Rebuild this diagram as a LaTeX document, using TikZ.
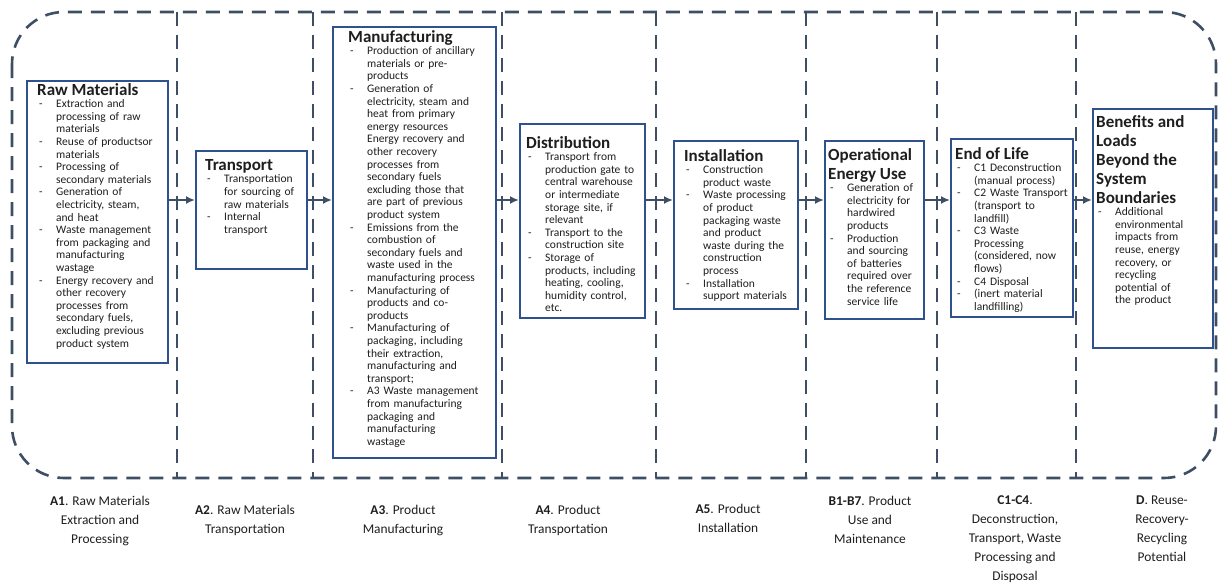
\documentclass[tikz,border=0pt]{standalone}
\usepackage{fontspec}
\setmainfont{Carlito}
\usetikzlibrary{arrows.meta, positioning}
\definecolor{boxblue}{RGB}{47,82,143}
\definecolor{frameslate}{RGB}{62,78,100}
\definecolor{inktext}{RGB}{30,30,30}
\tikzstyle{stagebox} = [rectangle, draw=boxblue, line width=2.2pt, fill=white, anchor=north west, inner sep=0pt]
\tikzstyle{stagetext} = [anchor=north west, inner sep=0pt, text width=160pt, align=left, text=inktext, font=\fontsize{11.5}{12.6}\selectfont]
\tikzstyle{phase} = [anchor=north, inner sep=0pt, align=center, text=inktext, font=\fontsize{13.4}{19}\selectfont]
\tikzstyle{boundary} = [draw=frameslate, line width=2.6pt, dash pattern=on 14pt off 9pt]
\tikzstyle{arrow} = [draw=frameslate, line width=1.8pt, -{Latex[length=9pt,width=8pt]}]
\newcommand{\stagetitle}[1]{{\fontsize{17}{19}\selectfont\bfseries #1\par}}
\newcommand{\itm}{\par\noindent\hangindent=19pt\hangafter=1\makebox[19pt][l]{\hspace{2pt}-}}

\begin{document}
\begin{tikzpicture}[x=1pt, y=-1pt]
    \useasboundingbox (0,0) rectangle (1220,584);

    % Dashed frame and module separators
    \draw[boundary, rounded corners=52pt] (12,12) rectangle (1216,478);
    \foreach \sx in {177,313,502,656,806,937,1076}
        \draw[boundary] (\sx,12) -- (\sx,478);

    % Stage boxes
    \node (raw) [stagebox, minimum width=141pt, minimum height=282pt] at (26,80) {};
    \node (trans) [stagebox, minimum width=111pt, minimum height=118pt] at (195,150) {};
    \node (manu) [stagebox, minimum width=163pt, minimum height=431pt] at (332,26) {};
    \node (dist) [stagebox, minimum width=125pt, minimum height=194pt] at (519,123) {};
    \node (inst) [stagebox, minimum width=124pt, minimum height=168pt] at (673,140) {};
    \node (oper) [stagebox, minimum width=99pt, minimum height=178pt] at (824,140) {};
    \node (eol) [stagebox, minimum width=122pt, minimum height=178pt] at (950,138) {};
    \node (bene) [stagebox, minimum width=120pt, minimum height=239pt] at (1092,108) {};

    % Stage contents
    \node (rawtext) [stagetext] at (37,83) {\stagetitle{Raw Materials}
        \itm Extraction and\newline processing of raw\newline materials
        \itm Reuse of productsor\newline materials
        \itm Processing of\newline secondary materials
        \itm Generation of\newline electricity, steam,\newline and heat
        \itm Waste management\newline from packaging and\newline manufacturing\newline wastage
        \itm Energy recovery and\newline other recovery\newline processes from\newline secondary fuels,\newline excluding previous\newline product system\par};
    \node (transtext) [stagetext] at (205,159) {\stagetitle{Transport}
        \itm Transportation\newline for sourcing of\newline raw materials
        \itm Internal\newline transport\par};
    \node (manutext) [stagetext] at (348,30) {\stagetitle{Manufacturing}
        \itm Production of ancillary\newline materials or pre-\newline products
        \itm Generation of\newline electricity, steam and\newline heat from primary\newline energy resources\newline Energy recovery and\newline other recovery\newline processes from\newline secondary fuels\newline excluding those that\newline are part of previous\newline product system
        \itm Emissions from the\newline combustion of\newline secondary fuels and\newline waste used in the\newline manufacturing process
        \itm Manufacturing of\newline products and co-\newline products
        \itm Manufacturing of\newline packaging, including\newline their extraction,\newline manufacturing and\newline transport;
        \itm A3 Waste management\newline from manufacturing\newline packaging and\newline manufacturing\newline wastage\par};
    \node (disttext) [stagetext] at (526,136) {\stagetitle{Distribution}
        \itm Transport from\newline production gate to\newline central warehouse\newline or intermediate\newline storage site, if\newline relevant
        \itm Transport to the\newline construction site
        \itm Storage of\newline products, including\newline heating, cooling,\newline humidity control,\newline etc.\par};
    \node (insttext) [stagetext] at (684,149) {\stagetitle{Installation}
        \itm Construction\newline product waste
        \itm Waste processing\newline of product\newline packaging waste\newline and product\newline waste during the\newline construction\newline process
        \itm Installation\newline support materials\par};
    \node (opertext) [stagetext] at (828,148) {\stagetitle{Operational\newline Energy Use}
        \itm Generation of\newline electricity for\newline hardwired\newline products
        \itm Production\newline and sourcing\newline of batteries\newline required over\newline the reference\newline service life\par};
    \node (eoltext) [stagetext] at (955,147) {\stagetitle{End of Life}
        \itm C1 Deconstruction\newline (manual process)
        \itm C2 Waste Transport\newline (transport to\newline landfill)
        \itm C3 Waste\newline Processing\newline (considered, now\newline flows)
        \itm C4 Disposal
        \itm (inert material\newline landfilling)\par};
    \node (benetext) [stagetext] at (1096,115) {\stagetitle{Benefits and\newline Loads\newline Beyond the\newline System\newline Boundaries}
        \itm Additional\newline environmental\newline impacts from\newline reuse, energy\newline recovery, or\newline recycling\newline potential of\newline the product\par};

    % Module labels under the frame
    \node (a1) [phase] at (100,496) {\textbf{A1}. Raw Materials\\Extraction and\\Processing};
    \node (a2) [phase] at (245,505) {\textbf{A2}. Raw Materials\\Transportation};
    \node (a3) [phase] at (403,505) {\textbf{A3}. Product\\Manufacturing};
    \node (a4) [phase] at (568,505) {\textbf{A4}. Product\\Transportation};
    \node (a5) [phase] at (728,504) {\textbf{A5}. Product\\Installation};
    \node (b17) [phase] at (870,496) {\textbf{B1-B7}. Product\\Use and\\Maintenance};
    \node (c14) [phase] at (1015,496) {\textbf{C1-C4}.\\Deconstruction,\\Transport, Waste\\Processing and\\Disposal};
    \node (dmod) [phase] at (1162,496) {\textbf{D}. Reuse-\\Recovery-\\Recycling\\Potential};

    % Flow between stages
    \coordinate (flowy) at (0,200);
    \draw[arrow] (raw.east |- flowy) -- (trans.west |- flowy);
    \draw[arrow] (trans.east |- flowy) -- (manu.west |- flowy);
    \draw[arrow] (manu.east |- flowy) -- (dist.west |- flowy);
    \draw[arrow] (dist.east |- flowy) -- (inst.west |- flowy);
    \draw[arrow] (inst.east |- flowy) -- (oper.west |- flowy);
    \draw[arrow] (oper.east |- flowy) -- (eol.west |- flowy);
    \draw[arrow] (eol.east |- flowy) -- (bene.west |- flowy);

\end{tikzpicture}
\end{document}
